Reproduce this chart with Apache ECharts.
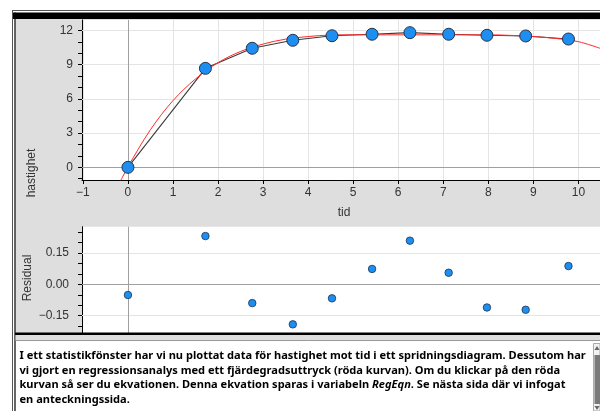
<!DOCTYPE html>
<html><head><meta charset="utf-8">
<script src="https://cdn.jsdelivr.net/npm/echarts@6/dist/echarts.min.js"></script>
<style>html,body{margin:0;padding:0;background:#fff}#c{width:600px;height:411px}</style>
</head><body><div id="c"></div>
<script>
// ---- data ----
const tid = [0, 1.72, 2.76, 3.66, 4.53, 5.42, 6.26, 7.12, 7.97, 8.83, 9.78];
const hastighet = [0, 8.68, 10.44, 11.14, 11.54, 11.67, 11.81, 11.67, 11.58, 11.52, 11.25];
const residual = [-0.051, 0.232, -0.09, -0.192, -0.067, 0.074, 0.21, 0.056, -0.111, -0.122, 0.088];
const curveTid = [-0.16, -0.13, 0, 0.5, 1, 1.5, 2, 2.5, 3, 3.5, 4, 4.5, 5, 6, 7, 8, 8.5, 9, 9.5, 10, 10.48];
const curveHastighet = [-1.15, -0.93, 0.05, 3.3, 5.85, 7.75, 9.18, 10.16, 10.81, 11.24, 11.47, 11.6, 11.62, 11.62, 11.62, 11.62, 11.57, 11.47, 11.3, 11.02, 10.44];
const xTicks = [-1, 0, 1, 2, 3, 4, 5, 6, 7, 8, 9, 10];
const yTicks = [-1, 0, 1, 2, 3, 4, 5, 6, 7, 8, 9, 10, 11, 12];
const yLabels = [0, 3, 6, 9, 12];
const resTicks = [-0.2, -0.15, -0.1, -0.05, 0, 0.05, 0.1, 0.15, 0.2, 0.25];
const resLabels = [-0.15, 0, 0.15];
const xName = 'tid';
const yName = 'hastighet';
const resName = 'Residual';
const textLines = [
  'I ett statistikfönster har vi nu plottat data för hastighet mot tid i ett spridningsdiagram. Dessutom har',
  'vi gjort en regressionsanalys med ett fjärdegradsuttryck (röda kurvan). Om du klickar på den röda',
  'kurvan så ser du ekvationen. Denna ekvation sparas i variabeln {i|RegEqn}. Se nästa sida där vi infogat',
  'en anteckningssida.'
];

// ---- layout ----
const X0 = 82, PW = 518;
const top1 = 20, h1 = 160;
const top2 = 226.7, h2 = 106.6;
const xMin = -1.02, xMax = 10.48;

const minus = s => s.replace('-', '\u2212');
const fmtInt = v => minus(String(v));
const fmtRes = v => minus((Math.abs(v) < 1e-9 ? 0 : v).toFixed(2));

const textFamily = '"Noto Sans", "Open Sans", sans-serif';
const cv = document.createElement('canvas').getContext('2d');
cv.font = 'bold 100px ' + textFamily;
const w100 = cv.measureText(textLines[0]).width;
let textSize = 100 * 567 / w100;
textSize = Math.max(9, Math.min(13, textSize));

const chart = echarts.init(document.getElementById('c'));

const lightGrid = '#e4e4e4', zeroLine = '#a0a0a0';
const pts = tid.map((t, i) => [t, hastighet[i]]);
const resPts = tid.map((t, i) => [t, residual[i]]);
const curve = curveTid.map((t, i) => [t, curveHastighet[i]]);

const mlBase = {z: 1, silent: true, symbol: ['none', 'none'], label: {show: false}, animation: false, emphasis: {disabled: true}};

const graphics = [
  {type: 'rect', z: -10, shape: {x: 15.5, y: 19, width: 584.5, height: 314}, style: {fill: '#dedede'}},
  {type: 'line', z: 100, shape: {x1: 12, y1: 10.5, x2: 600, y2: 10.5}, style: {stroke: '#555', lineWidth: 1}},
  {type: 'rect', z: 100, shape: {x: 12, y: 12.5, width: 588, height: 6.5}, style: {fill: '#000'}},
  {type: 'line', z: 100, shape: {x1: 12.5, y1: 10.5, x2: 12.5, y2: 411}, style: {stroke: '#555', lineWidth: 1}},
  {type: 'line', z: 100, shape: {x1: 15, y1: 12.5, x2: 15, y2: 411}, style: {stroke: '#000', lineWidth: 1.2}},
  {type: 'rect', z: 100, shape: {x: 15, y: 332.5, width: 585, height: 2.5}, style: {fill: '#000'}},
  {type: 'rect', z: 100, shape: {x: 15.6, y: 335, width: 584.4, height: 5.5}, style: {fill: '#dedede'}},
  {type: 'line', z: 100, shape: {x1: 15.6, y1: 340.5, x2: 600, y2: 340.5}, style: {stroke: '#999', lineWidth: 1}},
  // scrollbar
  {type: 'rect', z: 100, shape: {x: 593.5, y: 343.5, width: 6.5, height: 67.5}, style: {fill: '#f2f2f2', stroke: '#aaa', lineWidth: 1}},
  {type: 'rect', z: 101, shape: {x: 594.5, y: 355, width: 5.5, height: 49}, style: {fill: '#7a7a7a'}},
  {type: 'polygon', z: 101, shape: {points: [[594.5, 350], [599.5, 350], [597, 346]]}, style: {fill: '#666'}},
  {type: 'polygon', z: 101, shape: {points: [[594.5, 406], [599.5, 406], [597, 410]]}, style: {fill: '#666'}},
  // axis names
  {type: 'text', z: 100, x: 32, y: 173, rotation: Math.PI / 2,
   style: {text: yName, fill: '#333', font: '12px "Liberation Sans", Arial, sans-serif', align: 'center', verticalAlign: 'middle'}},
  {type: 'text', z: 100, x: 344, y: 213,
   style: {text: xName, fill: '#333', font: '12px "Liberation Sans", Arial, sans-serif', align: 'center', verticalAlign: 'middle'}},
  {type: 'text', z: 100, x: 28, y: 278, rotation: Math.PI / 2,
   style: {text: resName, fill: '#333', font: '12px "Liberation Sans", Arial, sans-serif', align: 'center', verticalAlign: 'middle'}}
];
const lineY = [356, 370.5, 385.3, 400];
textLines.forEach((t, i) => {
  graphics.push({type: 'text', z: 100, x: 19.5, y: lineY[i],
    style: {text: t, fill: '#000', fontFamily: textFamily, fontWeight: 'bold', fontSize: textSize,
      align: 'left', verticalAlign: 'middle',
      rich: {i: {fontFamily: textFamily, fontWeight: 'bold', fontStyle: 'italic', fontSize: textSize, fill: '#000'}}}});
});

const axisTxt = {color: '#333', fontSize: 12, fontFamily: '"Liberation Sans", Arial, sans-serif'};

chart.setOption({
  animation: false,
  backgroundColor: '#fff',
  grid: [
    {left: X0, top: top1, width: PW, height: h1, show: true, backgroundColor: '#fff', borderWidth: 0, outerBoundsMode: 'none', containLabel: false},
    {left: X0, top: top2, width: PW, height: h2, show: true, backgroundColor: '#fff', borderWidth: 0, outerBoundsMode: 'none', containLabel: false}
  ],
  xAxis: [
    {type: 'value', gridIndex: 0, min: xMin, max: xMax,
     axisLine: {show: true, onZero: false, lineStyle: {color: '#000', width: 1}},
     axisTick: {show: true, customValues: xTicks, length: 4, lineStyle: {color: '#000'}},
     axisLabel: Object.assign({show: true, customValues: xTicks, margin: 7, formatter: fmtInt}, axisTxt),
     splitLine: {show: false}},
    {type: 'value', gridIndex: 1, min: xMin, max: xMax,
     axisLine: {show: false}, axisTick: {show: false}, axisLabel: {show: false}, splitLine: {show: false}}
  ],
  yAxis: [
    {type: 'value', gridIndex: 0, min: -1.11, max: 12.92,
     axisLine: {show: true, onZero: false, lineStyle: {color: '#000', width: 1}},
     axisTick: {show: true, customValues: yTicks, length: 4, lineStyle: {color: '#000'}},
     axisLabel: Object.assign({show: true, customValues: yLabels, margin: 9, formatter: fmtInt}, axisTxt),
     splitLine: {show: false}},
    {type: 'value', gridIndex: 1, min: -0.235, max: 0.277,
     axisLine: {show: true, onZero: false, lineStyle: {color: '#000', width: 1}},
     axisTick: {show: true, customValues: resTicks, length: 4, lineStyle: {color: '#000'}},
     axisLabel: Object.assign({show: true, customValues: resLabels, margin: 13, formatter: fmtRes}, axisTxt),
     splitLine: {show: false}}
  ],
  graphic: graphics,
  series: [
    {type: 'line', xAxisIndex: 0, yAxisIndex: 0, z: 1, data: pts, showSymbol: false, lineStyle: {opacity: 0}, silent: true,
     markLine: Object.assign({}, mlBase, {data: [
       ...xTicks.filter(v => v !== 0).map(v => ({xAxis: v, lineStyle: {color: lightGrid, width: 1, type: 'solid'}})),
       ...yLabels.filter(v => v !== 0).map(v => ({yAxis: v, lineStyle: {color: lightGrid, width: 1, type: 'solid'}})),
       {xAxis: 0, lineStyle: {color: zeroLine, width: 1, type: 'solid'}},
       {yAxis: 0, lineStyle: {color: zeroLine, width: 1, type: 'solid'}}
     ]})},
    {type: 'line', xAxisIndex: 1, yAxisIndex: 1, z: 1, data: resPts, showSymbol: false, lineStyle: {opacity: 0}, silent: true,
     markLine: Object.assign({}, mlBase, {data: [
       ...resLabels.filter(v => v !== 0).map(v => ({yAxis: v, lineStyle: {color: lightGrid, width: 1, type: 'solid'}})),
       {xAxis: 0, lineStyle: {color: zeroLine, width: 1, type: 'solid'}},
       {yAxis: 0, lineStyle: {color: zeroLine, width: 1, type: 'solid'}}
     ]})},
    {type: 'line', xAxisIndex: 0, yAxisIndex: 0, z: 3, data: pts, showSymbol: false, silent: true,
     lineStyle: {color: '#3a3a3a', width: 1.1}},
    {type: 'line', xAxisIndex: 0, yAxisIndex: 0, z: 4, data: curve, showSymbol: false, silent: true, smooth: 0.35, clip: true,
     lineStyle: {color: '#ff2a2a', width: 1}},
    {type: 'scatter', xAxisIndex: 0, yAxisIndex: 0, z: 6, data: pts, symbolSize: 12, silent: true,
     itemStyle: {color: '#1f8ef1', borderColor: '#24344a', borderWidth: 1, opacity: 1}},
    {type: 'scatter', xAxisIndex: 1, yAxisIndex: 1, z: 6, data: resPts, symbolSize: 7.5, silent: true,
     itemStyle: {color: '#1f8ef1', borderColor: '#1d3553', borderWidth: 0.8, opacity: 1}}
  ]
});
</script></body></html>
